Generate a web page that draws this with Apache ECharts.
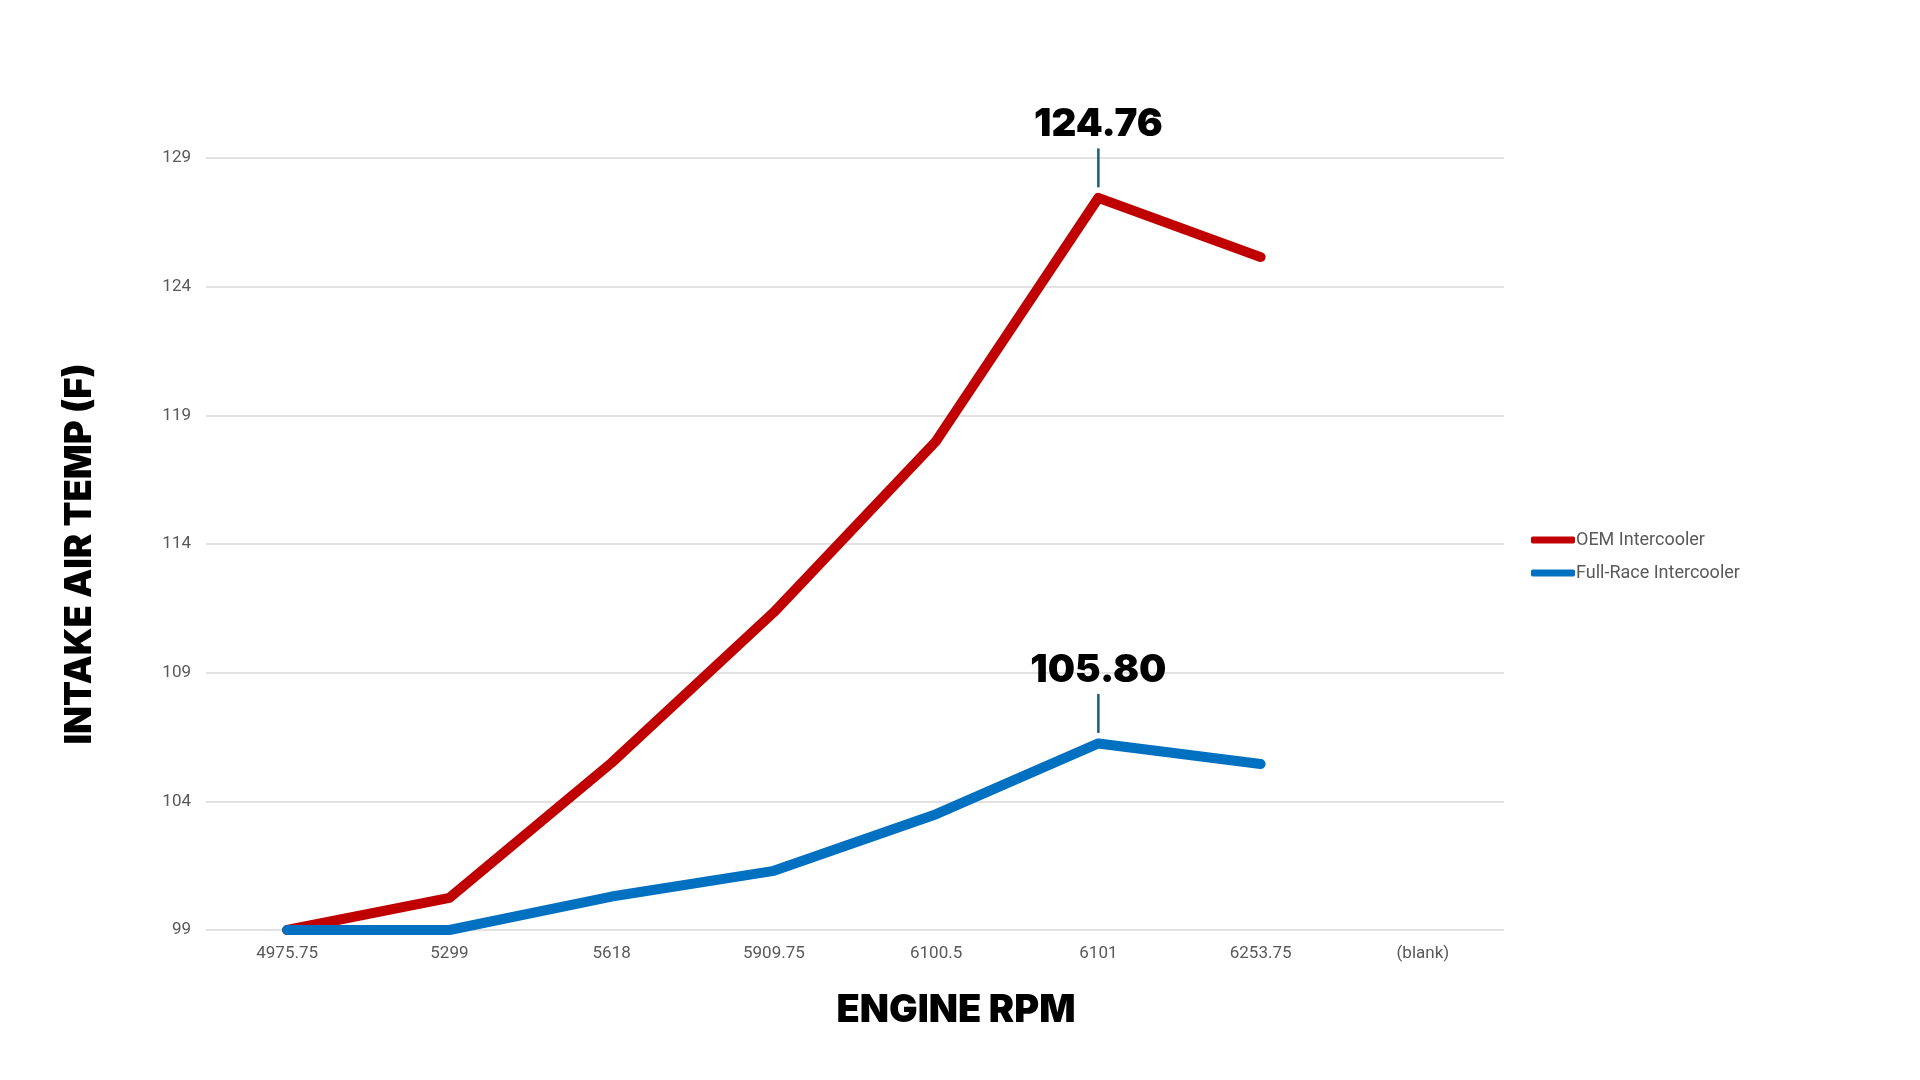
<!DOCTYPE html>
<html><head><meta charset="utf-8">
<script src="https://cdn.jsdelivr.net/npm/echarts@6/dist/echarts.min.js"></script>
<style>html,body{margin:0;padding:0;background:#fff}#c{width:1920px;height:1080px}</style>
</head><body><div id="c"></div>
<script>
const categories = ['4975.75','5299','5618','5909.75','6100.5','6101','6253.75','(blank)'];
const oemValues = [99, 100.25, 105.5, 111.35, 118.0, 127.45, 125.15, null];
const fullRaceValues = [99, 99, 100.3, 101.3, 103.5, 106.25, 105.45, null];
const peakLabels = ['124.76', '105.80'];
const yTicks = [99, 104, 109, 114, 119, 124, 129];
const seriesNames = ['OEM Intercooler', 'Full-Race Intercooler'];

const chart = echarts.init(document.getElementById('c'));
const heavy = {fontFamily: 'Inter', fontWeight: 900, color: '#000'};
function peakMark(txt) {
  return {
    symbol: 'rect', symbolSize: [2.5, 39], symbolOffset: [0, -30],
    itemStyle: {color: '#1f5c7a'},
    label: {show: true, position: 'top', distance: 4, formatter: txt, fontSize: 38.5, ...heavy},
    data: [{type: 'max'}]
  };
}
chart.setOption({
  animation: false,
  title: [
    {text: 'ENGINE RPM', left: 951, top: 987, textAlign: 'center',
     textStyle: {fontSize: 38, ...heavy}},
  ],
  grid: {left: 206, right: 416, top: 158, bottom: 150},
  legend: {
    orient: 'vertical', left: 1526, top: 526, itemGap: 15,
    itemWidth: 44, itemHeight: 7, icon: 'roundRect',
    textStyle: {color: '#595959', fontSize: 18, fontFamily: 'Roboto', padding: [0,0,0,-4]},
    data: seriesNames
  },
  xAxis: {
    type: 'category', data: categories, boundaryGap: true,
    axisLine: {show: false}, axisTick: {show: false},
    axisLabel: {color: '#595959', fontSize: 17, fontFamily: 'Roboto', margin: 15}
  },
  yAxis: {
    type: 'value', min: 99, max: 129,
    name: 'INTAKE AIR TEMP (F)', nameLocation: 'middle', nameGap: 107,
    nameTextStyle: {fontSize: 36.5, ...heavy, padding: [0, 20, 0, 0]},
    axisLine: {show: false},
    axisTick: {show: false, customValues: yTicks},
    axisLabel: {color: '#595959', fontSize: 17, fontFamily: 'Roboto', margin: 15, customValues: yTicks},
    splitLine: {show: true, lineStyle: {color: '#d9d9d9', width: 1.5}}
  },
  series: [
    {name: seriesNames[0], type: 'line', data: oemValues, showSymbol: false,
     color: '#c00000',
     lineStyle: {width: 10, cap: 'round', join: 'round', color: '#c00000'},
     markPoint: peakMark(peakLabels[0])},
    {name: seriesNames[1], type: 'line', data: fullRaceValues, showSymbol: false,
     color: '#0070c0',
     lineStyle: {width: 10, cap: 'round', join: 'round', color: '#0070c0'},
     markPoint: peakMark(peakLabels[1])}
  ]
});
</script></body></html>
